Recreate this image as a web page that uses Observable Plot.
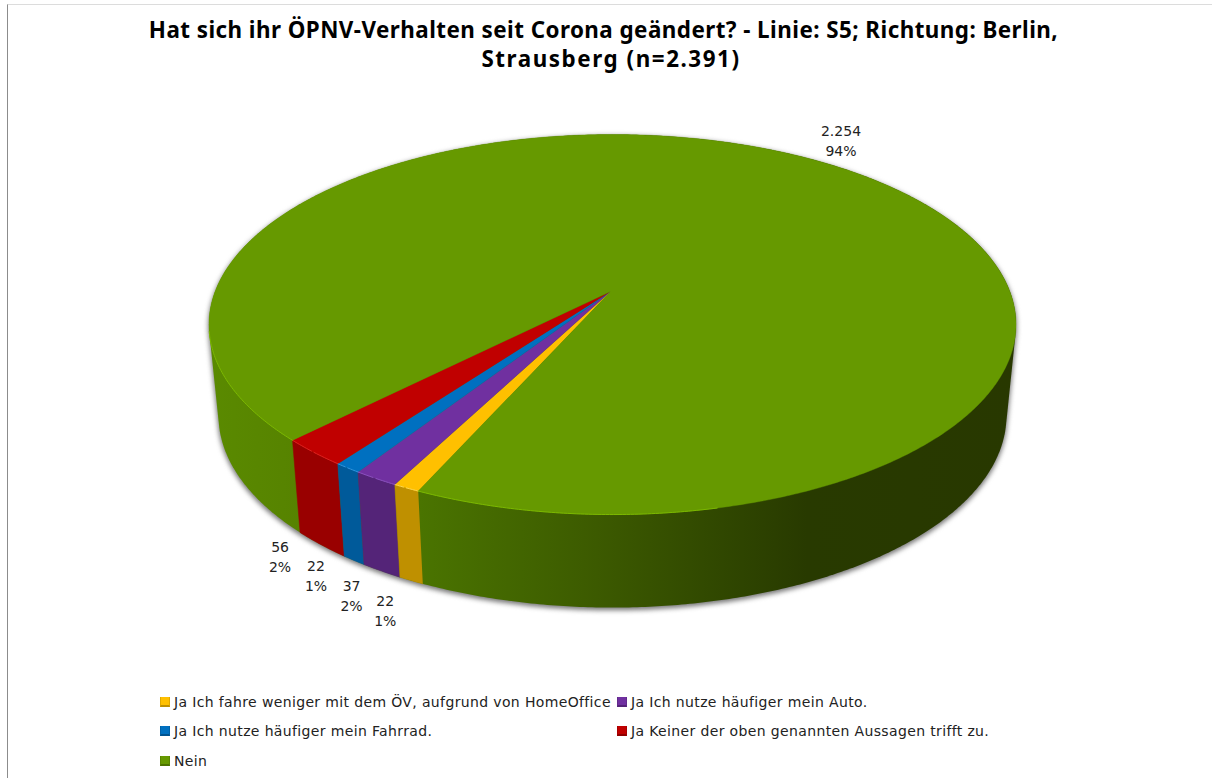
<!DOCTYPE html>
<html lang="de">
<head>
<meta charset="utf-8">
<script src="https://cdn.jsdelivr.net/npm/d3@7"></script>
<script src="https://cdn.jsdelivr.net/npm/@observablehq/plot@0.6"></script>
<style>
  html, body { margin: 0; padding: 0; background: #fff; overflow: hidden; }
  #page { position: relative; width: 1212px; height: 778px; }
  #frame { position: absolute; left: 7px; top: 4px; right: 0; bottom: 0; border-left: 1px solid #8c8c8c; border-top: 1px solid #dcdcdc; pointer-events: none; }
  h1 { position: absolute; left: 0; top: 15px; width: 1202px; margin: 0; padding-left: 10px; text-align: center; font: 700 22.4px/29px "Noto Sans", sans-serif; letter-spacing: 0.45px; color: #000; }
  h1 span { display: block; position: relative; }
  h1 span:first-child { left: -7.5px; }
  h1 span:last-child { letter-spacing: 1.55px; }
  #chart { position: absolute; left: 0; top: 76px; }
  #legend { position: absolute; left: 160px; top: 687px; display: grid; grid-template-columns: 457px auto; grid-auto-rows: 29.5px; align-items: center; font: 14px "DejaVu Sans", sans-serif; letter-spacing: 0.36px; color: #222; }
  .item { display: flex; align-items: center; white-space: nowrap; }
  .sw { width: 10px; height: 10px; margin-right: 4px; display: inline-block; box-sizing: border-box; border-bottom: 2px solid rgba(0,0,0,.25); border-left: 1px solid rgba(0,0,0,.12); border-right: 1px solid rgba(0,0,0,.12); }
</style>
</head>
<body>
<div id="page">
  <div id="frame"></div>
  <h1 id="title"></h1>
  <div id="chart"></div>
  <div id="legend"></div>
</div>
<script>
const titleLines = ["Hat sich ihr ÖPNV-Verhalten seit Corona geändert? - Linie: S5; Richtung: Berlin,", "Strausberg (n=2.391)"];
const categories = [
  "Ja Ich fahre weniger mit dem ÖV, aufgrund von HomeOffice",
  "Ja Ich nutze häufiger mein Auto.",
  "Ja Ich nutze häufiger mein Fahrrad.",
  "Ja Keiner der oben genannten Aussagen trifft zu.",
  "Nein"
];
const counts = [22, 37, 22, 56, 2254];
const topColors = ["#ffc000", "#7030a0", "#0070c0", "#c00000", "#669900"];
const sideColors = ["#bf9000", "#542478", "#005a9a", "#990000", "url(#neinSide)"];
const rimColors = ["#ffd64d", "#8a4fc0", "#2f93e0", "#e02020", "#7cb800"];
const firstSliceAngle = 24.3;    // degrees clockwise from the front of the pie
const labelOffsets = [[-26, 29], [-30, 23], [-38, 14], [-41, 11], [31, -19]];

// Perspective view of the disc: one projection for the top rim, one for the bottom rim.
const tilt = 0.1737;
const apex = {x: 610, y: 291};
const topFace = {cx: 612, cy: 291, a: 397.4, b: 184.3};
const bottomFace = {cx: 612, cy: 381.7, a: 388, b: 186.2};
const project = (face, deg) => {
  const t = deg * Math.PI / 180, u = -Math.sin(t), v = Math.cos(t), w = 1 - tilt * v;
  return {x: face.cx + face.a * u / w, y: face.cy + face.b * v / w};
};
const total = d3.sum(counts);
const ends = Array.from(d3.cumsum(counts), c => firstSliceAngle + 360 * c / total);
const slices = categories.map((category, i) => ({
  category, count: counts[i],
  start: i ? ends[i - 1] : firstSliceAngle,
  end: ends[i]
}));
const arc = (face, s) => {
  const n = Math.ceil(s.end - s.start) * 2;
  return d3.range(n + 1).map(k => project(face, s.start + (s.end - s.start) * k / n));
};
const sidePath = s => [...arc(topFace, s), ...arc(bottomFace, s).reverse()];
const topPath = s => [apex, ...arc(topFace, s)];
const xy = {x: "x", y: "y"};

// Outline of the whole cylinder: hull of both rims, so the flanks run straight between them.
const whole = {start: 0, end: 360};
const hullPoints = [...arc(topFace, whole), ...arc(bottomFace, whole)].map(p => [p.x, p.y]);
const outline = d3.polygonHull(hullPoints).map(([x, y]) => ({x, y}));

const rim = s => arc(topFace, s)
  .map((p, k, all) => ({...p, run: k < all.length / 2 ? "first" : "second"}))
  .filter(p => p.y > 330 && p.x < 720);

// Numbers in German style
const de = d3.formatLocale({decimal: ",", thousands: ".", grouping: [3], currency: ["", "€"]});
const labels = slices.map((s, i) => {
  const p = project(i === 4 ? topFace : bottomFace, (s.start + s.end) / 2);
  return {
    x: p.x + labelOffsets[i][0], y: p.y + labelOffsets[i][1],
    text: `${de.format(",")(s.count)}\n${Math.round(100 * s.count / total)}%`
  };
});

const gradient = () => {
  const ns = "http://www.w3.org/2000/svg";
  const defs = document.createElementNS(ns, "defs");
  const g = document.createElementNS(ns, "linearGradient");
  g.setAttribute("id", "neinSide");
  g.setAttribute("gradientUnits", "userSpaceOnUse");
  for (const [k, v] of [["x1", 209], ["x2", 1016], ["y1", 0], ["y2", 0]]) g.setAttribute(k, v);
  for (const [o, c] of [[0, "#5a8a00"], [0.12, "#568200"], [0.26, "#4a7400"], [0.48, "#3c5a00"], [0.66, "#2e4400"], [0.74, "#283a00"], [1, "#283800"]]) {
    const s = document.createElementNS(ns, "stop");
    s.setAttribute("offset", o);
    s.setAttribute("stop-color", c);
    g.appendChild(s);
  }
  defs.appendChild(g);
  return defs;
};

const plot = Plot.plot({
  width: 1212, height: 604,
  margin: 0,
  x: {domain: [0, 1212], range: [0, 1212], axis: null},
  y: {domain: [76, 680], range: [0, 604], axis: null},
  color: {domain: categories, range: topColors},
  style: {background: "transparent", overflow: "visible"},
  marks: [
    gradient,
    Plot.line(outline, {...xy, fill: "#777", stroke: "#777", strokeWidth: 1.5, imageFilter: "blur(2.5px)", dy: 2}),
    // side walls, back to front
    Plot.line(outline, {...xy, fill: sideColors[4]}),
    ...[3, 2, 1, 0].map(i => Plot.line(sidePath(slices[i]), {...xy, fill: sideColors[i], stroke: sideColors[i], strokeWidth: 0.5})),
    // top faces
    ...slices.map(s => Plot.line(topPath(s), {...xy, fill: () => s.category, stroke: () => s.category, strokeWidth: 0.4})),
    // lit rim
    ...slices.map((s, i) => Plot.line(rim(s), {...xy, z: "run", stroke: rimColors[i], strokeWidth: 1})),
    Plot.text(labels, {...xy, text: "text", fontSize: 14, lineHeight: 1.43, fontFamily: "DejaVu Sans", fill: "#222"})
  ]
});
document.getElementById("chart").appendChild(plot);

const title = document.getElementById("title");
titleLines.forEach(line => {
  const span = document.createElement("span");
  span.textContent = line;
  title.appendChild(span);
});
const legend = document.getElementById("legend");
categories.forEach((c, i) => {
  const el = document.createElement("div");
  el.className = "item";
  const sw = document.createElement("span");
  sw.className = "sw";
  sw.style.background = topColors[i];
  el.appendChild(sw);
  el.appendChild(document.createTextNode(c));
  legend.appendChild(el);
});
</script>
</body>
</html>
